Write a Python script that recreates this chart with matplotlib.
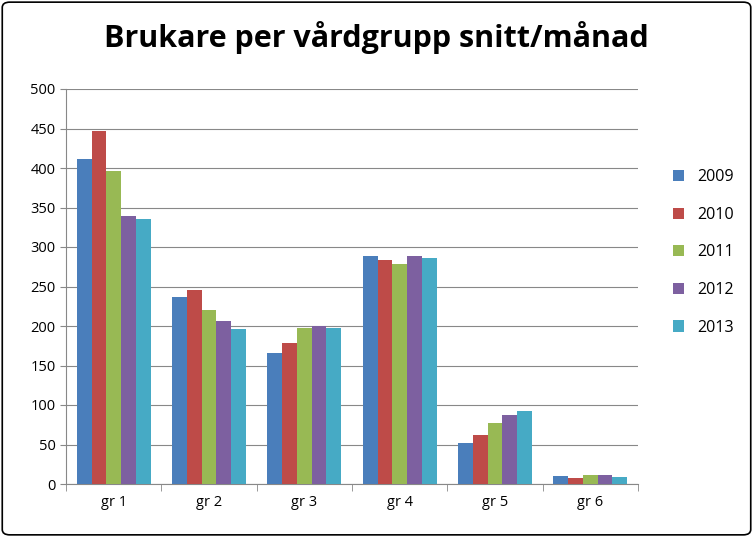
import matplotlib.pyplot as plt
import numpy as np
from matplotlib.patches import FancyBboxPatch

groups = ['gr 1', 'gr 2', 'gr 3', 'gr 4', 'gr 5', 'gr 6']
years = ['2009', '2010', '2011', '2012', '2013']
v2009 = [411, 237, 166, 288, 52, 10]
v2010 = [447, 246, 179, 284, 62, 7]
v2011 = [396, 220, 198, 279, 77, 11]
v2012 = [339, 206, 200, 288, 87, 11]
v2013 = [335, 196, 198, 286, 92, 9]
colors = ['#4a7ebb', '#be4b48', '#98b954', '#7d60a0', '#46aac5']

plt.rcParams['font.family'] = 'Open Sans'
fig = plt.figure(figsize=(7.53, 5.37), dpi=100)
fig.patches.append(FancyBboxPatch((0.003, 0.004), 0.994, 0.992, boxstyle='round,pad=0,rounding_size=0.01',
                                  transform=fig.transFigure, fill=False, edgecolor='black', linewidth=1.2))
ax = fig.add_axes([66/753, 1-484/537, (638-66)/753, (484-89)/537])

x = np.arange(len(groups))
w = 0.155
for i, (vals, c) in enumerate(zip([v2009, v2010, v2011, v2012, v2013], colors)):
    ax.bar(x + (i - 2) * w, vals, w, color=c, label=years[i], zorder=3)

ax.set_ylim(0, 500)
ax.set_xlim(-0.5, len(groups) - 0.5)
ax.set_yticks(range(0, 501, 50))
ax.set_xticks(x)
ax.set_xticklabels(groups)
ax.set_xticks(np.arange(-0.5, len(groups), 1), minor=True)
ax.tick_params(axis='x', which='major', length=0, pad=8)
ax.tick_params(axis='x', which='minor', length=5, color='#888888')
ax.tick_params(axis='y', length=4, color='#888888')
ax.tick_params(labelsize=10.5)
ax.grid(axis='y', color='#888888', linewidth=0.8, zorder=0)
for s in ['top', 'right']:
    ax.spines[s].set_visible(False)
for s in ['left', 'bottom']:
    ax.spines[s].set_color('#888888')

fig.suptitle('Brukare per vårdgrupp snitt/månad', fontsize=22, fontweight='bold', y=0.96)
fig.legend(loc='center left', bbox_to_anchor=(0.875, 0.53), frameon=False, fontsize=11.5,
           handlelength=0.7, handleheight=0.7, labelspacing=1.35)

fig.savefig('out.png', dpi=100)
